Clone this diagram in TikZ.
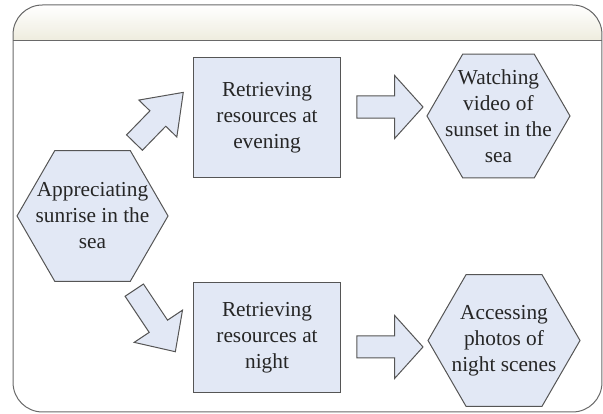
\documentclass[tikz,border=0pt]{standalone}
\usepackage{fontspec}
\setmainfont{Liberation Serif}
\usetikzlibrary{shapes.geometric,shapes.arrows}

\definecolor{boxfill}{RGB}{226,232,245}
\definecolor{boxline}{RGB}{85,85,85}
\definecolor{frameline}{RGB}{105,105,105}
\definecolor{headfill}{RGB}{238,236,222}

\tikzstyle{process} = [rectangle, minimum width=110.25pt, text centered, align=center, draw=boxline, fill=boxfill, line width=0.75pt, text=black!85, font=\fontsize{16}{19.5}\selectfont]
\tikzstyle{hexa} = [regular polygon, regular polygon sides=6, inner sep=-10pt, text centered, align=center, draw=boxline, fill=boxfill, line width=0.75pt, text=black!85, font=\fontsize{16}{19.5}\selectfont]
\tikzstyle{bigarrow} = [single arrow, inner xsep=0pt, inner ysep=7.9pt, draw=boxline, fill=boxfill, line width=0.75pt, minimum height=49.5pt, minimum width=46.5pt, single arrow head extend=15.4pt, single arrow tip angle=96]

\begin{document}
\begin{tikzpicture}[node distance = 165pt, auto]
	\useasboundingbox (-69.4pt,-148.5pt) rectangle (382.9pt,162pt);
	% Frame
	\begin{scope}
		\clip [rounded corners=22pt] (-59.6pt,-147pt) rectangle (382.1pt,158.25pt);
		\fill [top color=white, bottom color=headfill] (-59.6pt,131.5pt) rectangle (382.1pt,158.25pt);
	\end{scope}
	\draw [frameline, line width=0.75pt, rounded corners=22pt] (-59.6pt,-147pt) rectangle (382.1pt,158.25pt);
	\draw [frameline, line width=0.75pt] (-59.6pt,131.5pt) -- (382.1pt,131.5pt);
	% Place nodes
	\node [hexa, minimum size=113.25pt] (Sunrise) {Appreciating\\sunrise in the\\sea};
	\node [process, minimum height=90pt, right of=Sunrise, xshift=-34.1pt, yshift=73.5pt] (Evening) {Retrieving\\resources at\\evening};
	\node [process, minimum height=82.5pt, below of=Evening] (Night) {Retrieving\\resources at\\night};
	\node [hexa, minimum size=107.25pt, right of=Evening, xshift=8.6pt, yshift=1.5pt] (Sunset) {Watching\\video of\\sunset in the\\sea};
	\node [hexa, minimum size=114pt, right of=Night, xshift=12.75pt, yshift=-1.9pt] (Photos) {Accessing\\photos of\\night scenes};
	% Block arrows
	\node [bigarrow, minimum height=52.5pt, minimum width=39pt, single arrow head extend=11.6pt, single arrow tip angle=72, left of=Evening, xshift=79.9pt, yshift=-3.7pt, rotate=45.8] (ToEvening) {};
	\node [bigarrow, minimum height=55.5pt, minimum width=42.75pt, single arrow head extend=13.5pt, single arrow tip angle=87, left of=Night, xshift=78.4pt, yshift=16.4pt, rotate=-56.3] (ToNight) {};
	\node [bigarrow, right of=Evening, xshift=-76.5pt, yshift=8.25pt] (ToSunset) {};
	\node [bigarrow, right of=Night, xshift=-76.5pt, yshift=-6.75pt] (ToPhotos) {};
\end{tikzpicture}
\end{document}
